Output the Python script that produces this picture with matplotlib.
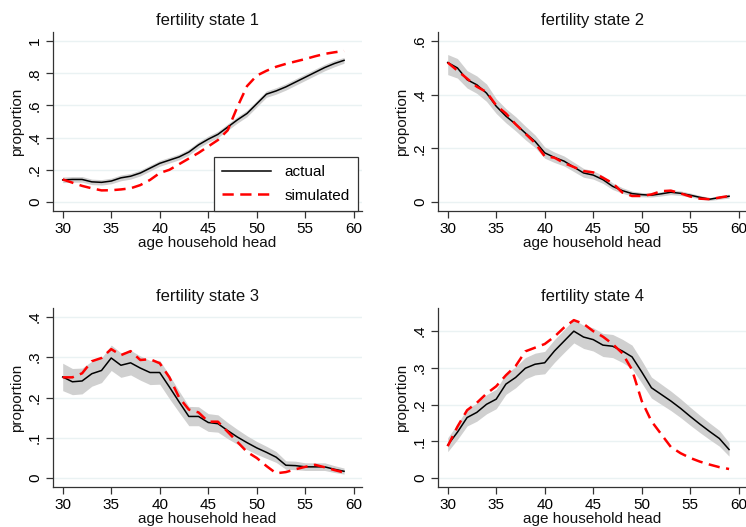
import matplotlib
matplotlib.use("Agg")
import matplotlib.pyplot as plt
import numpy as np

plt.rcParams['font.family'] = ['Liberation Sans', 'DejaVu Sans']

ages = list(range(30, 60))

p1_actual = [0.137,0.14,0.14,0.125,0.122,0.13,0.15,0.16,0.18,0.21,0.24,0.26,0.28,0.31,0.355,0.39,0.42,0.465,0.51,0.55,0.61,0.67,0.69,0.715,0.745,0.775,0.805,0.835,0.86,0.88]
p1_lo = [0.12,0.123,0.123,0.108,0.105,0.113,0.132,0.142,0.162,0.192,0.222,0.242,0.262,0.291,0.336,0.37,0.4,0.445,0.49,0.53,0.59,0.65,0.67,0.695,0.725,0.755,0.785,0.815,0.84,0.862]
p1_hi = [0.155,0.158,0.158,0.142,0.139,0.148,0.168,0.178,0.198,0.228,0.258,0.278,0.298,0.329,0.374,0.41,0.44,0.485,0.53,0.57,0.63,0.69,0.71,0.735,0.765,0.795,0.825,0.855,0.88,0.898]
p1_sim = [0.14,0.12,0.10,0.085,0.072,0.073,0.078,0.085,0.105,0.137,0.18,0.2,0.235,0.27,0.305,0.345,0.385,0.445,0.59,0.72,0.785,0.815,0.84,0.858,0.873,0.888,0.905,0.92,0.93,0.938]

p2_actual = [0.52,0.50,0.456,0.437,0.406,0.357,0.32,0.29,0.257,0.226,0.183,0.166,0.152,0.13,0.108,0.1,0.083,0.058,0.042,0.031,0.027,0.025,0.03,0.036,0.032,0.025,0.017,0.01,0.016,0.021]
p2_lo = [0.475,0.462,0.425,0.405,0.375,0.33,0.295,0.265,0.232,0.203,0.163,0.147,0.134,0.113,0.092,0.085,0.069,0.046,0.032,0.022,0.019,0.018,0.022,0.027,0.024,0.018,0.011,0.005,0.01,0.014]
p2_hi = [0.55,0.535,0.49,0.47,0.44,0.385,0.348,0.318,0.283,0.25,0.205,0.186,0.171,0.148,0.125,0.116,0.098,0.071,0.053,0.04,0.035,0.033,0.038,0.045,0.041,0.033,0.024,0.016,0.023,0.029]
p2_sim = [0.52,0.49,0.46,0.43,0.41,0.36,0.33,0.29,0.255,0.22,0.17,0.165,0.145,0.13,0.115,0.11,0.09,0.07,0.035,0.022,0.022,0.028,0.04,0.042,0.032,0.02,0.012,0.01,0.016,0.022]

p3_actual = [0.251,0.239,0.241,0.259,0.267,0.298,0.28,0.286,0.273,0.262,0.262,0.226,0.189,0.153,0.153,0.138,0.135,0.118,0.102,0.088,0.075,0.064,0.052,0.032,0.031,0.028,0.028,0.028,0.022,0.017]
p3_lo = [0.217,0.207,0.209,0.228,0.237,0.267,0.25,0.256,0.243,0.232,0.233,0.197,0.163,0.13,0.13,0.116,0.114,0.098,0.084,0.071,0.059,0.049,0.039,0.022,0.021,0.019,0.019,0.019,0.014,0.01]
p3_hi = [0.285,0.272,0.273,0.29,0.298,0.33,0.311,0.317,0.303,0.292,0.292,0.255,0.216,0.178,0.177,0.16,0.157,0.138,0.121,0.105,0.091,0.079,0.066,0.043,0.042,0.038,0.038,0.038,0.031,0.025]
p3_sim = [0.25,0.25,0.26,0.29,0.298,0.32,0.305,0.315,0.293,0.295,0.285,0.25,0.2,0.17,0.163,0.14,0.14,0.115,0.09,0.065,0.05,0.03,0.012,0.015,0.022,0.028,0.033,0.027,0.02,0.014]

p4_actual = [0.09,0.125,0.165,0.179,0.201,0.215,0.256,0.274,0.299,0.31,0.314,0.346,0.373,0.4,0.384,0.377,0.362,0.359,0.346,0.33,0.289,0.246,0.228,0.21,0.19,0.168,0.147,0.127,0.108,0.078]
p4_lo = [0.072,0.105,0.142,0.155,0.175,0.189,0.228,0.246,0.27,0.281,0.284,0.315,0.342,0.368,0.353,0.346,0.331,0.328,0.315,0.298,0.259,0.218,0.201,0.184,0.165,0.144,0.124,0.105,0.087,0.06]
p4_hi = [0.11,0.147,0.189,0.204,0.227,0.242,0.284,0.303,0.328,0.34,0.345,0.377,0.404,0.432,0.416,0.409,0.394,0.391,0.378,0.362,0.32,0.275,0.256,0.237,0.216,0.193,0.171,0.15,0.13,0.097]
p4_sim = [0.087,0.14,0.185,0.205,0.23,0.25,0.28,0.305,0.345,0.355,0.365,0.385,0.41,0.43,0.42,0.40,0.385,0.365,0.34,0.295,0.21,0.155,0.12,0.085,0.068,0.055,0.045,0.037,0.03,0.025]

titles = ["fertility state 1", "fertility state 2", "fertility state 3", "fertility state 4"]
yticks_list = [[0, 0.2, 0.4, 0.6, 0.8, 1.0], [0, 0.2, 0.4, 0.6], [0, 0.1, 0.2, 0.3, 0.4], [0, 0.1, 0.2, 0.3, 0.4]]
ytick_labels = [["0", ".2", ".4", ".6", ".8", "1"], ["0", ".2", ".4", ".6"], ["0", ".1", ".2", ".3", ".4"], ["0", ".1", ".2", ".3", ".4"]]
ylims = [(-0.056, 1.056), (-0.034, 0.634), (-0.022, 0.422), (-0.024, 0.463)]
xticks = [30, 35, 40, 45, 50, 55, 60]

panels = [
    (p1_actual, p1_lo, p1_hi, p1_sim),
    (p2_actual, p2_lo, p2_hi, p2_sim),
    (p3_actual, p3_lo, p3_hi, p3_sim),
    (p4_actual, p4_lo, p4_hi, p4_sim),
]

W, H = 746, 527
fig = plt.figure(figsize=(W / 100, H / 100), dpi=100)
# axes boxes in pixels: left, right, top, bottom
boxes = [(53, 362, 32, 211), (438, 747, 32, 211), (53, 362, 308, 487), (438, 747, 308, 487)]

grid_col = "#EAF2F3"
band_col = "#D0D0D0"
fs = 11

for i, (box, (act, lo, hi, sim)) in enumerate(zip(boxes, panels)):
    l, r, t, b = box
    ax = fig.add_axes([l / W, (H - b) / H, (r - l) / W, (b - t) / H])
    ax.fill_between(ages, lo, hi, color=band_col, linewidth=0, zorder=2)
    ax.plot(ages, act, color="black", linewidth=1.1, zorder=3, label="actual")
    ax.plot(ages, sim, color="red", linewidth=1.8, dashes=(4.5, 2.6), zorder=4, label="simulated")
    ax.set_xlim(29.0, 60.85)
    ax.set_ylim(*ylims[i])
    ax.set_xticks(xticks)
    ax.set_xticklabels([str(x) for x in xticks], fontsize=fs)
    ax.set_yticks(yticks_list[i])
    ax.set_yticklabels(ytick_labels[i], fontsize=fs, rotation=90, va="center")
    ax.yaxis.grid(True, color=grid_col, linewidth=1.0, zorder=0)
    ax.set_axisbelow(True)
    for s in ["top", "right"]:
        ax.spines[s].set_visible(False)
    for s in ["left", "bottom"]:
        ax.spines[s].set_color("#333333")
        ax.spines[s].set_linewidth(0.9)
    ax.tick_params(direction="out", length=5, width=0.9, color="#333333", pad=3)
    ax.set_title(titles[i], fontsize=12, pad=5, color="#111111")
    ax.set_xlabel("age household head", fontsize=fs, labelpad=0, color="#111111")
    ax.set_ylabel("proportion", fontsize=fs, labelpad=3, color="#111111")
    if i == 0:
        leg = ax.legend(loc="lower right", bbox_to_anchor=(0.987, 0.0), borderaxespad=0,
                        fontsize=fs, frameon=True, fancybox=False, handlelength=3.2,
                        edgecolor="#333333", framealpha=1, borderpad=0.55, labelspacing=0.6,
                        handletextpad=0.85)
        leg.get_frame().set_linewidth(0.9)

fig.savefig("out.png", dpi=100)
